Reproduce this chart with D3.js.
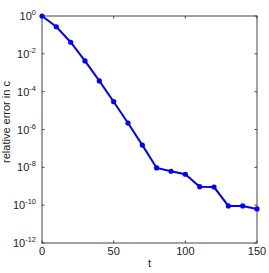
<!DOCTYPE html>
<html>
<head>
<meta charset="utf-8">
<script src="https://cdn.jsdelivr.net/npm/d3@7"></script>
<style>
  body { margin: 0; background: #fff; }
  text { font-family: "Liberation Sans", Arial, sans-serif; }
</style>
</head>
<body>
<script>
// data
var tValues = [0, 10, 20, 30, 40, 50, 60, 70, 80, 90, 100, 110, 120, 130, 140, 150];
var errValues = [1, 0.27, 0.041, 4.2e-3, 3.7e-4, 2.95e-5, 2.2e-6, 1.5e-7, 9.3e-9, 6.2e-9,
                 4.3e-9, 9.5e-10, 9.1e-10, 9.1e-11, 9.1e-11, 6.3e-11];
var xTicks = [0, 50, 100, 150];
var yTickExp = [0, -2, -4, -6, -8, -10, -12];

var W = 269, H = 273;
var plotL = 42, plotR = 257, plotT = 16, plotB = 243;

var svg = d3.select("body").append("svg")
    .attr("width", W)
    .attr("height", H);

var x = d3.scaleLinear().domain([0, 150]).range([plotL, plotR]);
var y = d3.scaleLog().domain([1e-12, 1]).range([plotB, plotT]);

var axisCol = "#444";

// box
svg.append("rect")
    .attr("x", plotL).attr("y", plotT)
    .attr("width", plotR - plotL).attr("height", plotB - plotT)
    .style("fill", "none")
    .style("stroke", axisCol)
    .style("stroke-width", 1);

// x ticks (inside, bottom and top)
xTicks.forEach(function(t) {
    svg.append("line")
        .attr("x1", x(t)).attr("x2", x(t))
        .attr("y1", plotB).attr("y2", plotB - 2.5)
        .style("stroke", axisCol);
    svg.append("line")
        .attr("x1", x(t)).attr("x2", x(t))
        .attr("y1", plotT).attr("y2", plotT + 2.5)
        .style("stroke", axisCol);
    svg.append("text")
        .attr("x", x(t)).attr("y", plotB + 12)
        .attr("text-anchor", "middle")
        .style("font-size", "11px")
        .style("fill", "#222")
        .text(t);
});

// y ticks
yTickExp.forEach(function(e) {
    var yy = y(Math.pow(10, e));
    svg.append("line")
        .attr("x1", plotL).attr("x2", plotL + 2.5)
        .attr("y1", yy).attr("y2", yy)
        .style("stroke", axisCol);
    svg.append("line")
        .attr("x1", plotR).attr("x2", plotR - 2.5)
        .attr("y1", yy).attr("y2", yy)
        .style("stroke", axisCol);
    var lab = svg.append("text")
        .attr("x", plotL - 6).attr("y", yy + 4)
        .attr("text-anchor", "end")
        .style("font-size", "11px")
        .style("fill", "#222");
    lab.append("tspan").text("10");
    lab.append("tspan")
        .attr("dy", -5)
        .style("font-size", "7.5px")
        .text(e);
});

// axis labels
svg.append("text")
    .attr("x", (plotL + plotR) / 2).attr("y", 267)
    .attr("text-anchor", "middle")
    .style("font-size", "11px")
    .style("fill", "#222")
    .text("t");

svg.append("text")
    .attr("transform", "translate(10,122) rotate(-90)")
    .attr("text-anchor", "middle")
    .style("font-size", "11px")
    .style("fill", "#222")
    .text("relative error in c");

// line + markers
var pts = tValues.map(function(t, i) { return [t, errValues[i]]; });

svg.append("path")
    .datum(pts)
    .attr("d", d3.line()
        .x(function(d) { return x(d[0]); })
        .y(function(d) { return y(d[1]); }))
    .style("fill", "none")
    .style("stroke", "#0000ff")
    .style("stroke-width", 2);

svg.selectAll("circle")
    .data(pts)
    .enter()
    .append("circle")
    .attr("cx", function(d) { return x(d[0]); })
    .attr("cy", function(d) { return y(d[1]); })
    .attr("r", 2.6)
    .style("fill", "#0000ff");
</script>
</body>
</html>
